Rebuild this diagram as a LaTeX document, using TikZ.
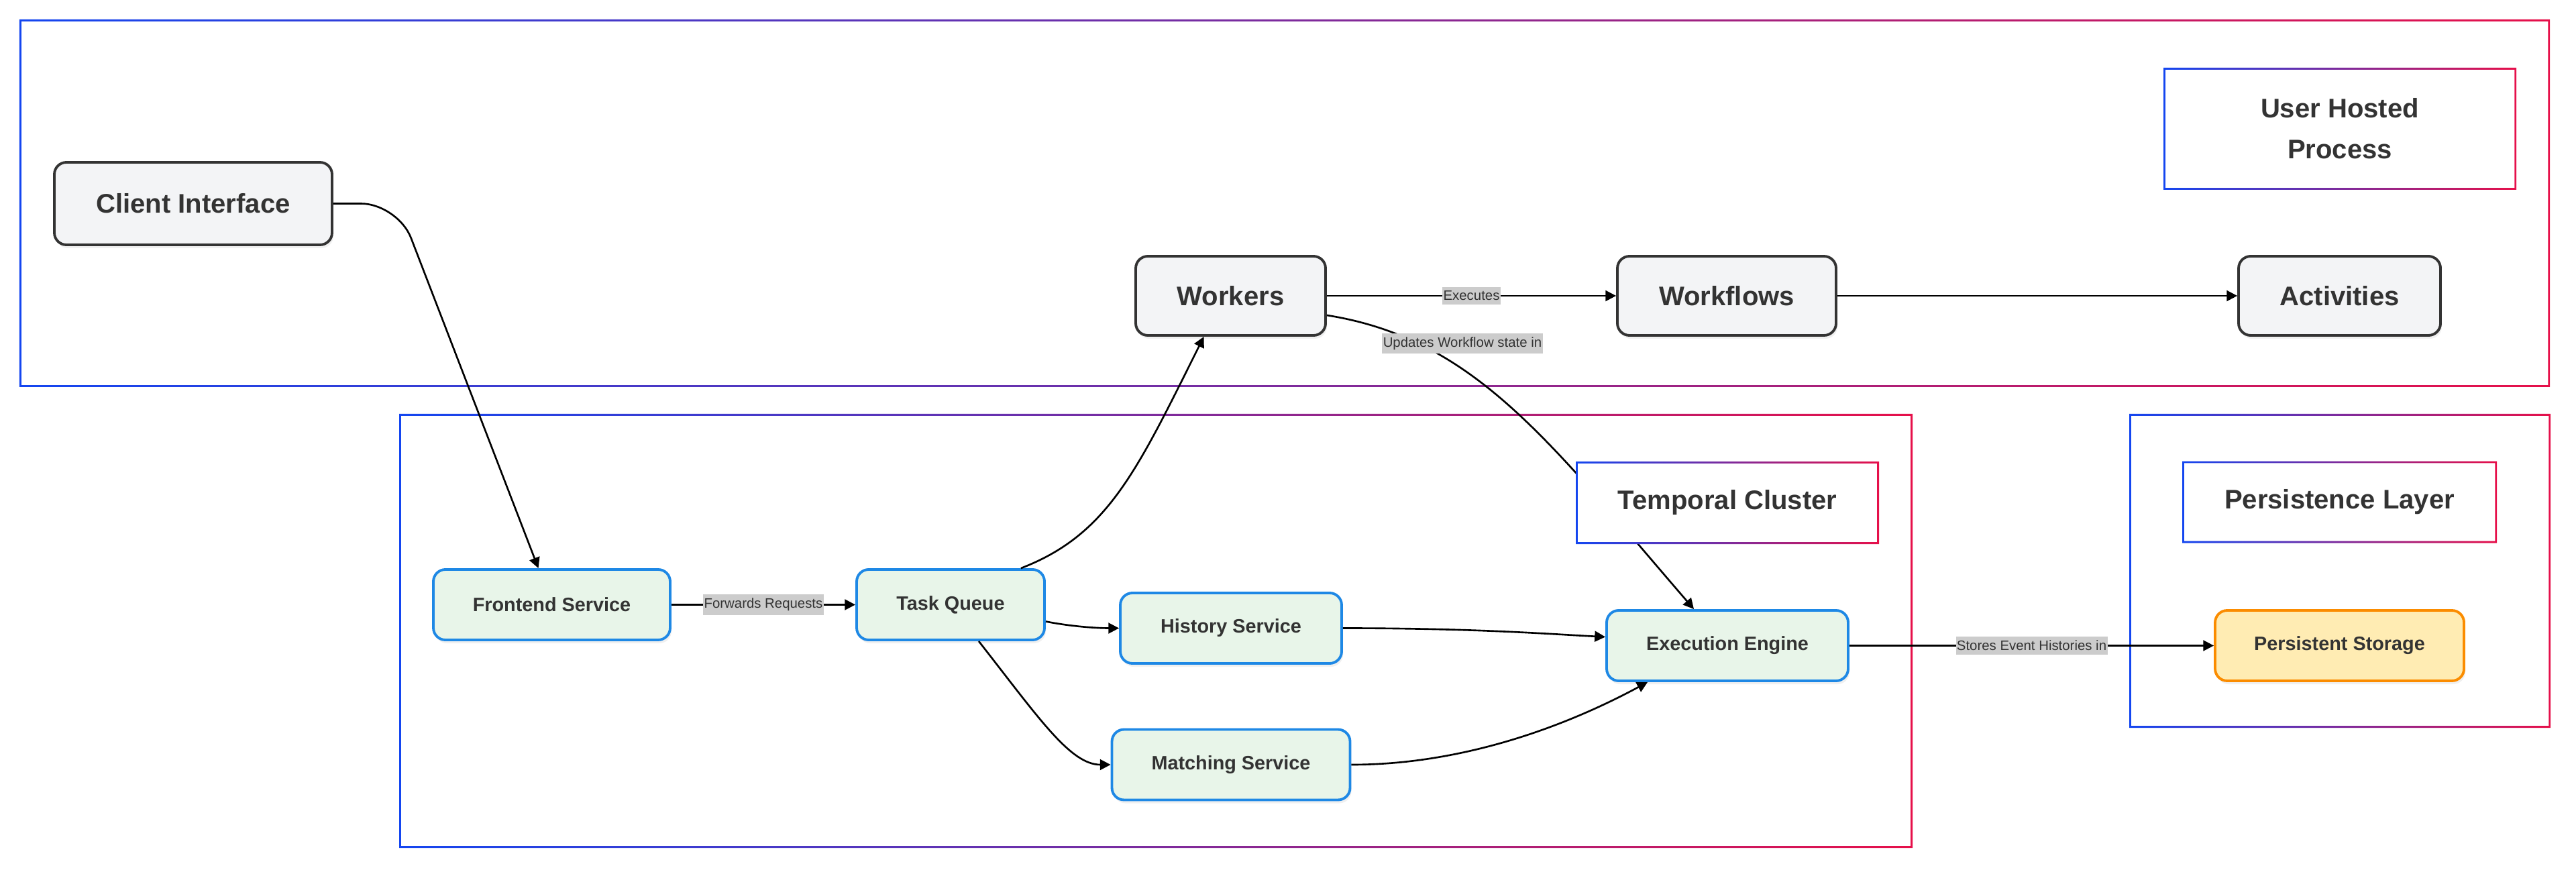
\documentclass[tikz,border=0pt]{standalone}
\usepackage{fontspec}
\setmainfont{Liberation Sans}
\usepackage{xcolor}
\usepackage{tikz}
\usetikzlibrary{positioning}
\usetikzlibrary{arrows.meta}
\usetikzlibrary{shadows}

\definecolor{ink}{HTML}{333333}
\definecolor{userfill}{HTML}{F3F4F6}
\definecolor{svcfill}{HTML}{E8F5E9}
\definecolor{svcline}{HTML}{1E88E5}
\definecolor{storefill}{HTML}{FFECB3}
\definecolor{storeline}{HTML}{FB8C00}
\definecolor{elfill}{HTML}{CCCCCC}
\definecolor{gblue}{HTML}{1446F0}
\definecolor{gred}{HTML}{E6104A}

% blue-to-red border round a named node
\newcommand{\gradring}[1]{%
  \shade[left color=gblue, right color=gred, even odd rule]
    (#1.south west) rectangle (#1.north east)
    ([shift={(0.028,0.028)}]#1.south west) rectangle ([shift={(-0.028,-0.028)}]#1.north east);}

\begin{document}
\begin{tikzpicture}[node distance=1cm, on grid, >={Triangle[length=4.5pt,width=4.5pt]},
      ubox/.style={draw=ink, line width=1.1pt, fill=userfill, rounded corners=0.18cm, text=ink,
        font=\fontsize{11.4}{13}\selectfont\bfseries, minimum height=1.18cm,
        drop shadow={opacity=0.12, shadow xshift=0.02cm, shadow yshift=-0.05cm}},
      svc/.style={draw=svcline, line width=1.1pt, fill=svcfill, rounded corners=0.18cm, text=ink,
        font=\fontsize{8.2}{10}\selectfont\bfseries, minimum height=1.05cm,
        drop shadow={opacity=0.12, shadow xshift=0.02cm, shadow yshift=-0.05cm}},
      store/.style={svc, draw=storeline, fill=storefill},
      frm/.style={inner sep=0pt, outer sep=0pt},
      ttl/.style={fill=white, inner sep=0pt, outer sep=0pt, text=ink, align=center,
        font=\fontsize{11.4}{17.4}\selectfont\bfseries},
      el/.style={fill=elfill, text=ink, inner xsep=0.4pt, inner ysep=1.6pt,
        font=\fontsize{5.8}{7}\selectfont},
      lnk/.style={line width=0.75pt},
      curve/.style 2 args={to path={.. controls +(#1) and +(#2) .. (\tikztotarget) \tikztonodes}}]

      \useasboundingbox (0,0) rectangle (38.4,-12.97);

      % frames
      \node[frm, minimum width=37.72cm, minimum height=5.48cm] (userframe) at (19.15,-3.03) {};
      \node[frm, minimum width=22.56cm, minimum height=6.47cm] (tempframe) at (17.23,-9.405) {};
      \node[frm, minimum width=6.28cm, minimum height=4.68cm] (persframe) at (34.88,-8.51) {};
      \gradring{userframe}
      \gradring{tempframe}
      \gradring{persframe}

      \node[ubox, minimum width=4.14cm, minimum height=1.23cm] (client) at (2.88,-3.035) {Client Interface};
      \node[ubox, minimum width=2.83cm] (workers) at (18.345,-4.41) {Workers};
      \node[ubox, minimum width=3.26cm] (workflows) [right=of workers, xshift=6.395cm] {Workflows};
      \node[ubox, minimum width=3.01cm] (activities) [right=of workflows, xshift=8.135cm] {Activities};

      \node[svc, minimum width=3.53cm] (front) at (8.225,-9.015) {Frontend Service};
      \node[svc, minimum width=2.80cm] (taskq) [right=of front, xshift=4.945cm] {Task Queue};
      \node[svc, minimum width=3.30cm] (history) at (18.35,-9.365) {History Service};
      \node[svc, minimum width=3.55cm] (matching) [below=of history, yshift=-1.035cm] {Matching Service};
      \node[svc, minimum width=3.60cm] (exec) at (25.75,-9.625) {Execution Engine};
      \node[store, minimum width=3.71cm] (storage) [right=of exec, xshift=8.125cm] {Persistent Storage};

      \path[->, lnk]
        (client.east) edge [rounded corners=0.55cm, to path={-- ++(0.96,0) -- (\tikztotarget)}] ([xshift=-0.2cm]front.north)
        (front) edge node[el] {Forwards Requests} (taskq)
        ([xshift=-0.37cm]taskq.north east) edge [curve={1.3,0.5}{-1.0,-2.0}] ([xshift=-0.4cm]workers.south)
        ([yshift=-0.25cm]taskq.east) edge [curve={0.35,-0.07}{-0.35,0}] (history.west)
        ([xshift=0.42cm]taskq.south) edge [curve={0.9,-1.15}{-0.6,0}] (matching.west)
        (history.east) edge [curve={2.0,0}{-0.8,0.04}] ([yshift=0.13cm]exec.west)
        (matching.east) edge [curve={1.6,0}{-1.3,-0.7}] ([xshift=0.63cm]exec.south west)
        ([yshift=-0.29cm]workers.east) edge [curve={2.21,-0.35}{-2.15,2.49}]
          node[el, pos=0.3, xshift=0.27cm, yshift=0.21cm] {Updates Workflow state in} ([xshift=-0.5cm]exec.north)
        (workers) edge node[el] {Executes} (workflows)
        (workflows) edge (activities)
        (exec) edge node[el] {Stores Event Histories in} (storage);

      % frame titles
      \node[ttl, minimum width=5.26cm, minimum height=1.82cm] (userlbl) at (34.88,-1.92) {User Hosted\\Process};
      \node[ttl, minimum width=4.52cm, minimum height=1.23cm] (templbl) [above=of exec, yshift=1.13cm] {Temporal Cluster};
      \node[ttl, minimum width=4.69cm, minimum height=1.22cm] (perslbl) [above=of storage, yshift=1.14cm] {Persistence Layer};
      \gradring{userlbl}
      \gradring{templbl}
      \gradring{perslbl}

    \end{tikzpicture}
\end{document}
